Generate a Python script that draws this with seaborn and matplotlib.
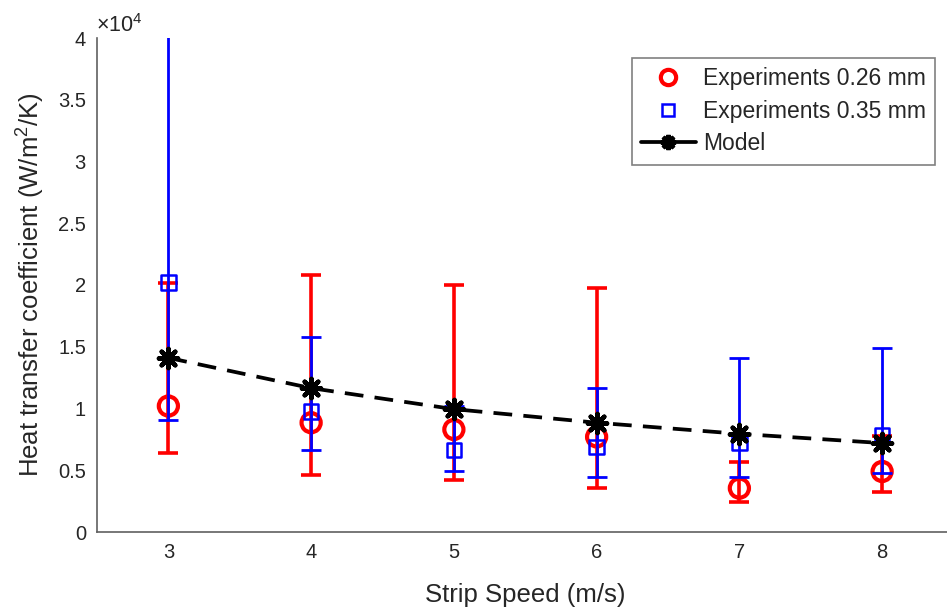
import numpy as np
import pandas as pd
import matplotlib
matplotlib.use("Agg")
import matplotlib.pyplot as plt
from matplotlib.lines import Line2D
from matplotlib.ticker import FuncFormatter
import seaborn as sns

# ---- data ----
speeds = [3, 4, 5, 6, 7, 8]
red_mean = [10200, 8850, 8300, 7700, 3550, 4900]
red_low = [6400, 4600, 4200, 3550, 2450, 3200]
red_high = [20200, 20800, 20000, 19750, 5700, 7800]
blue_mean = [20200, 9750, 6650, 6900, 7200, 7850]
blue_low = [9100, 6650, 4950, 4450, 4450, 4800]
blue_high = [41000, 15800, 10200, 11700, 14100, 14900]
model = [14100, 11650, 9950, 8850, 7950, 7200]
yticks = [0, 5000, 10000, 15000, 20000, 25000, 30000, 35000, 40000]

sns.set_theme(style="white")
plt.rcParams['font.family'] = ['Liberation Sans', 'DejaVu Sans']
plt.rcParams['mathtext.fontset'] = 'custom'
plt.rcParams['mathtext.rm'] = 'Liberation Sans'
plt.rcParams['mathtext.it'] = 'Liberation Sans:italic'

fig = plt.figure(figsize=(9.47, 6.08), dpi=100)
ax = fig.add_axes([97/947, 76/608, 856.5/947, 494/608])

red = "#ff0000"
blue = "#0000ff"

df_r = pd.DataFrame({"x": speeds, "y": red_mean})
df_b = pd.DataFrame({"x": speeds, "y": blue_mean})
df_m = pd.DataFrame({"x": speeds, "y": model})

rm = np.array(red_mean); bm = np.array(blue_mean)
ax.errorbar(speeds, rm, yerr=[rm - np.array(red_low), np.array(red_high) - rm],
            fmt='none', ecolor=red, elinewidth=2.6, capsize=7, capthick=2.6, zorder=2)
sns.scatterplot(data=df_r, x="x", y="y", ax=ax, marker='o', s=190, facecolors='none',
                edgecolor=red, linewidth=3, zorder=3, clip_on=False)
ax.errorbar(speeds, bm, yerr=[bm - np.array(blue_low), np.array(blue_high) - bm],
            fmt='none', ecolor=blue, elinewidth=2.0, capsize=7, capthick=2.0, zorder=4)
sns.scatterplot(data=df_b, x="x", y="y", ax=ax, marker='s', s=110, facecolors='none',
                edgecolor=blue, linewidth=1.8, zorder=5, clip_on=False)
sns.lineplot(data=df_m, x="x", y="y", ax=ax, color='black', linewidth=2.7,
             dashes=False, zorder=6, linestyle=(0, (5, 3)))
sns.scatterplot(data=df_m, x="x", y="y", ax=ax, marker=(8, 2, 0), s=190, color='black',
                edgecolor='black', linewidth=3.2, zorder=7, clip_on=False)

ax.set_xlim(2.5, 8.5)
ax.set_ylim(0, 40000)
ax.set_xticks(speeds)
ax.set_yticks(yticks)
ax.yaxis.set_major_formatter(FuncFormatter(lambda v, p: f"{v/1e4:g}"))
ax.tick_params(direction='in', length=6, width=1, colors='#404040', labelcolor='#262626',
               labelsize=14.5, pad=8)
for s in ['top', 'right']:
    ax.spines[s].set_visible(False)
for s in ['left', 'bottom']:
    ax.spines[s].set_color('#606060')
    ax.spines[s].set_linewidth(1.2)

ax.set_xlabel("Strip Speed (m/s)", fontsize=18.5, color='#262626', labelpad=15)
ax.set_ylabel("Heat transfer coefficient (W/m$^2$/K)", fontsize=18.5, color='#262626', labelpad=8)
fig.text(96/947, 1 - 37/608, r"$\times$10$^4$", fontsize=15.5, color='#262626', ha='left', va='bottom')

handles = [
    Line2D([], [], linestyle='none', marker='o', markersize=11, markerfacecolor='none',
           markeredgecolor=red, markeredgewidth=3),
    Line2D([], [], linestyle='none', marker='s', markersize=9, markerfacecolor='none',
           markeredgecolor=blue, markeredgewidth=1.8),
    Line2D([], [], color='black', linewidth=2.7, marker=(8, 2, 0), markersize=11,
           markeredgewidth=3, markeredgecolor='black'),
]
leg = ax.legend(handles, ["Experiments 0.26 mm", "Experiments 0.35 mm", "Model"],
                loc='upper right', bbox_to_anchor=(935/947, 1 - 58/608), bbox_transform=fig.transFigure,
                borderaxespad=0, fontsize=16.5, frameon=True, fancybox=False, handlelength=2.4,
                handletextpad=0.3, labelspacing=0.42, borderpad=0.4)
leg.get_frame().set_edgecolor('#606060')
leg.get_frame().set_linewidth(1.2)

fig.savefig("out.png", dpi=100)
